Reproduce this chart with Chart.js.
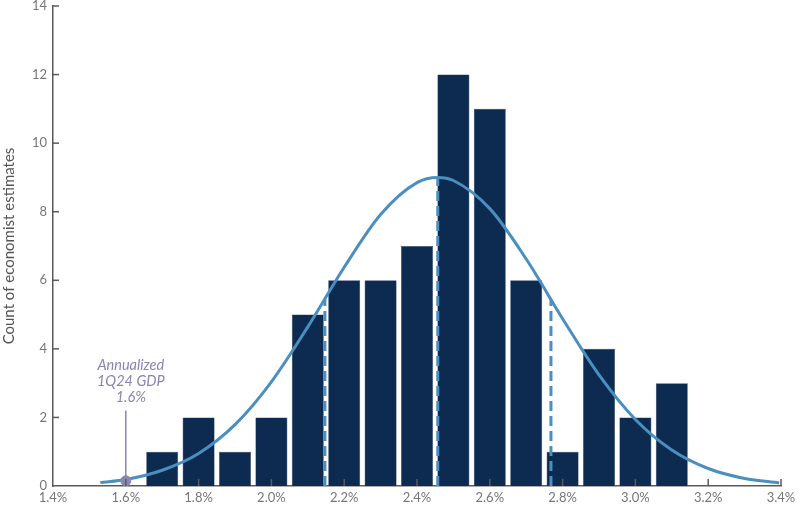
<!DOCTYPE html>
<html>
<head>
<meta charset="utf-8">
<script src="https://cdn.jsdelivr.net/npm/chart.js@4.4.1/dist/chart.umd.min.js"></script>
<style>
  html, body { margin: 0; padding: 0; background: #fff; }
  #wrap { width: 800px; height: 512px; }
</style>
</head>
<body>
<div id="wrap"><canvas id="gdp-chart"></canvas></div>
<script>
// histogram bins (GDP estimate, %) and counts
const binCenters = [1.7, 1.8, 1.9, 2.0, 2.1, 2.2, 2.3, 2.4, 2.5, 2.6, 2.7, 2.8, 2.9, 3.0, 3.1];
const binCounts  = [1, 2, 1, 2, 5, 6, 6, 7, 12, 11, 6, 1, 4, 2, 3];

// fitted curve
const curveX = [1.53, 1.6, 1.7, 1.8, 1.9, 2.0, 2.1, 2.2, 2.3, 2.4, 2.457, 2.5, 2.6, 2.7, 2.8, 2.9, 3.0, 3.1, 3.2, 3.3, 3.395];
const curveY = [0.1, 0.19, 0.46, 0.95, 1.79, 3.04, 4.64, 6.38, 7.92, 8.85, 9.0, 8.91, 8.09, 6.62, 4.88, 3.24, 1.94, 1.05, 0.51, 0.22, 0.09];

// dashed markers: -1 sd, mean, +1 sd
const markerX   = [2.147, 2.457, 2.768];
const markerTop = [5.45, 9.0, 5.45];

// actual GDP annotation
const gdpActual = 1.6;
const gdpDotY = 0.15;
const gdpLineTop = 2.2;
const gdpLabel = ['Annualized', '1Q24 GDP', '1.6%'];

const xTicks = [1.4, 1.6, 1.8, 2.0, 2.2, 2.4, 2.6, 2.8, 3.0, 3.2, 3.4];
const yTicks = [0, 2, 4, 6, 8, 10, 12, 14];

const barColor = '#0d2b50';
const curveColor = '#4a8fc0';
const noteColor = '#8886b2';
const axisColor = '#5a5a5a';
const labelColor = '#777';
const fontFamily = "'Source Sans Pro', Lato, sans-serif";

const markerSets = markerX.map((x, i) => ({
  type: 'line',
  data: [{ x, y: 0 }, { x, y: markerTop[i] }],
  borderColor: curveColor,
  borderWidth: 3,
  borderDash: [10, 5],
  pointRadius: 0,
  order: 1,
}));

// inner tick marks + annotation text
const innerTicks = {
  id: 'innerTicks',
  afterDatasetsDraw(chart) {
    const { ctx, scales: { x, y } } = chart;
    ctx.save();
    ctx.strokeStyle = axisColor;
    ctx.lineWidth = 1.5;
    xTicks.slice(1).forEach(v => {
      const px = x.getPixelForValue(v);
      ctx.beginPath();
      ctx.moveTo(px, y.bottom);
      ctx.lineTo(px, y.bottom - 7);
      ctx.stroke();
    });
    yTicks.slice(1).forEach(v => {
      const py = y.getPixelForValue(v);
      ctx.beginPath();
      ctx.moveTo(x.left, py);
      ctx.lineTo(x.left + 6, py);
      ctx.stroke();
    });

    ctx.fillStyle = noteColor;
    ctx.font = `italic 14.5px ${fontFamily}`;
    ctx.textAlign = 'center';
    ctx.textBaseline = 'middle';
    const tx = x.getPixelForValue(gdpActual) + 5;
    gdpLabel.forEach((line, i) => {
      ctx.fillText(line, tx, 365 + i * 16);
    });
    ctx.restore();
  },
};

const ctx = document.getElementById('gdp-chart').getContext('2d');
new Chart(ctx, {
  data: {
    datasets: [
      {
        type: 'bar',
        data: binCenters.map((c, i) => ({ x: c, y: binCounts[i] })),
        backgroundColor: barColor,
        borderColor: '#33486a',
        borderWidth: 0.5,
        categoryPercentage: 1,
        barPercentage: 0.88,
        order: 3,
      },
      {
        type: 'line',
        data: curveX.map((c, i) => ({ x: c, y: curveY[i] })),
        borderColor: curveColor,
        borderWidth: 3,
        pointRadius: 0,
        cubicInterpolationMode: 'monotone',
        order: 2,
      },
      ...markerSets,
      {
        type: 'line',
        data: [{ x: gdpActual, y: gdpDotY }, { x: gdpActual, y: gdpLineTop }],
        borderColor: noteColor,
        borderWidth: 1.5,
        pointRadius: 0,
        order: 0,
      },
      {
        type: 'scatter',
        data: [{ x: gdpActual, y: gdpDotY }],
        backgroundColor: noteColor,
        borderColor: noteColor,
        pointRadius: 5,
        order: 0,
      },
    ],
  },
  options: {
    responsive: true,
    maintainAspectRatio: false,
    animation: false,
    layout: { padding: { top: 6, right: 19, bottom: 0, left: 0 } },
    plugins: { legend: { display: false }, tooltip: { enabled: false } },
    scales: {
      x: {
        type: 'linear',
        min: 1.4,
        max: 3.4,
        offset: false,
        afterBuildTicks: s => { s.ticks = xTicks.map(v => ({ value: v })); },
        afterFit: s => { s.height = 26; },
        ticks: {
          color: labelColor,
          font: { family: fontFamily, size: 13 },
          padding: 4,
          callback: v => v.toFixed(1) + '%',
        },
        grid: { display: false, drawTicks: false },
        border: { display: true, color: axisColor, width: 1.5 },
      },
      y: {
        min: 0,
        max: 14,
        afterBuildTicks: s => { s.ticks = yTicks.map(v => ({ value: v })); },
        afterFit: s => { s.width = 53; s.paddingTop = 0; s.paddingBottom = 0; },
        ticks: {
          color: labelColor,
          font: { family: fontFamily, size: 13 },
          padding: 6,
        },
        title: {
          display: true,
          text: 'Count of economist estimates',
          color: '#555',
          font: { family: fontFamily, size: 15 },
          padding: { top: 0, bottom: 8 },
        },
        grid: { display: false, drawTicks: false },
        border: { display: true, color: axisColor, width: 1.5 },
      },
    },
  },
  plugins: [innerTicks],
});
</script>
</body>
</html>
